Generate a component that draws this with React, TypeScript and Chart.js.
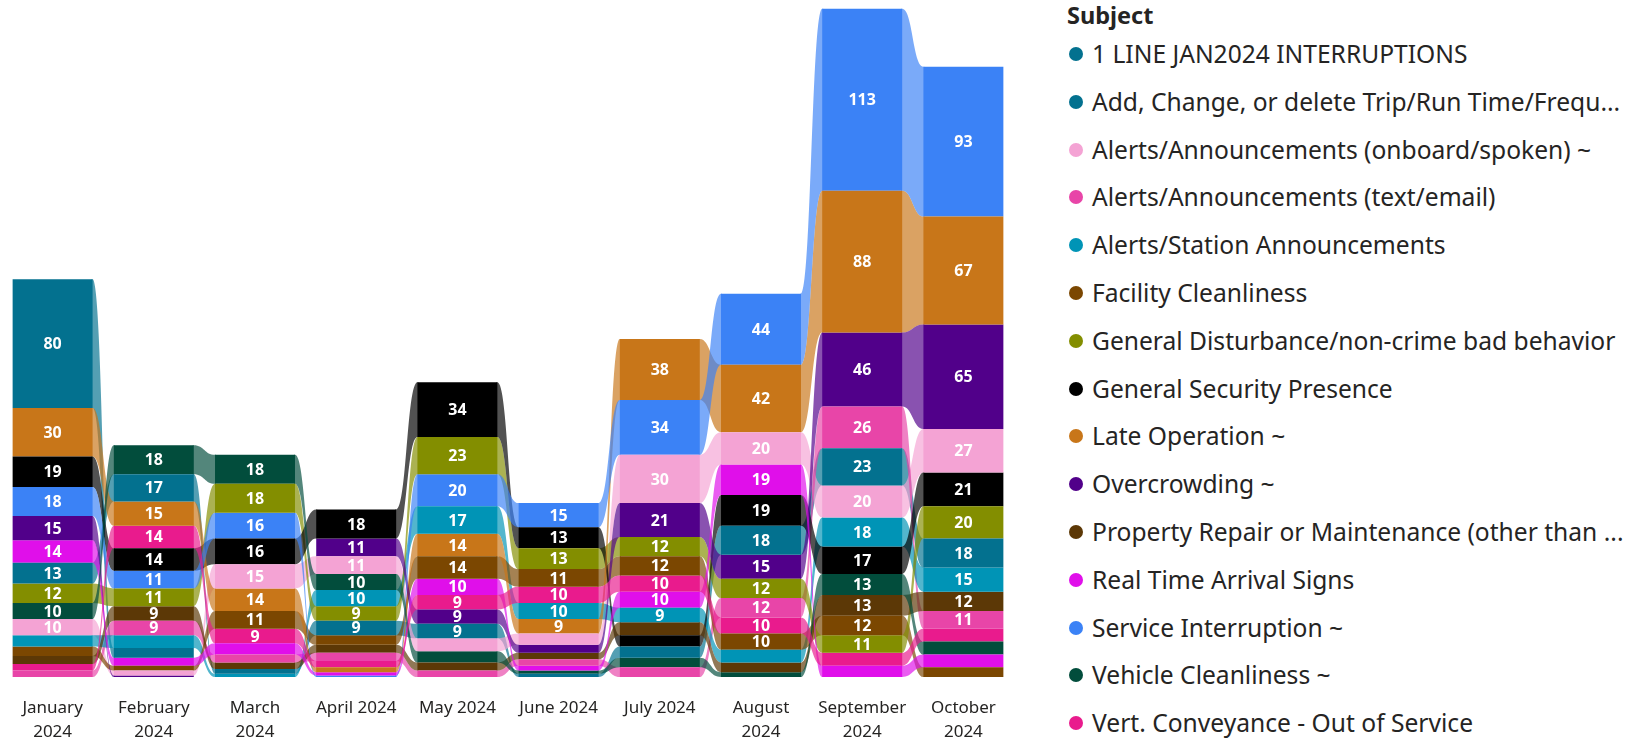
import React, { useEffect, useRef } from "react";
import { Chart, registerables } from "chart.js";

Chart.register(...registerables);

const FONT = '"Segoe UI", "Noto Sans", "Open Sans", sans-serif';

const months = [
  "January 2024", "February 2024", "March 2024", "April 2024", "May 2024",
  "June 2024", "July 2024", "August 2024", "September 2024", "October 2024",
];
const monthTickLabels: (string | string[])[] = [
  ["January", "2024"], ["February", "2024"], ["March", "2024"], "April 2024", "May 2024",
  "June 2024", "July 2024", ["August", "2024"], ["September", "2024"], ["October", "2024"],
];

const subjects = [
  "1 LINE JAN2024 INTERRUPTIONS",
  "Add, Change, or delete Trip/Run Time/Frequ...",
  "Alerts/Announcements (onboard/spoken) ~",
  "Alerts/Announcements (text/email)",
  "Alerts/Station Announcements",
  "Facility Cleanliness",
  "General Disturbance/non-crime bad behavior",
  "General Security Presence",
  "Late Operation ~",
  "Overcrowding ~",
  "Property Repair or Maintenance (other than ...",
  "Real Time Arrival Signs",
  "Service Interruption ~",
  "Vehicle Cleanliness ~",
  "Vert. Conveyance - Out of Service",
];
const subjectColors = [
  "#03718F", "#03718F", "#F4A3D4", "#E845A8", "#0094B6",
  "#7B4701", "#838E00", "#000000", "#C87619", "#51008A",
  "#5C3806", "#E00FEA", "#3B82F6", "#024D3C", "#E91B8D",
];

// monthly counts, Jan..Oct 2024
const oneLineJan2024 = [80, 6, 0, 0, 0, 0, 0, 0, 0, 0];
const addChangeTrip = [13, 17, 3, 9, 9, 2, 7, 18, 23, 18];
const alertsOnboard = [10, 3, 15, 11, 8, 7, 30, 20, 20, 27];
const alertsText = [4, 9, 5, 5, 4, 4, 6, 12, 26, 11];
const alertsStation = [7, 8, 2, 10, 17, 10, 9, 8, 18, 15];
const facilityCleanliness = [6, 3, 11, 6, 14, 11, 12, 10, 12, 6];
const generalDisturbance = [12, 11, 18, 9, 23, 13, 12, 12, 11, 20];
const generalSecurity = [19, 14, 16, 18, 34, 13, 7, 19, 17, 21];
const lateOperation = [30, 15, 14, 3, 14, 9, 38, 42, 88, 67];
const overcrowding = [15, 1, 0, 11, 9, 5, 21, 15, 46, 65];
const propertyRepair = [5, 9, 4, 5, 5, 4, 8, 6, 13, 12];
const realTimeSigns = [14, 5, 7, 2, 10, 3, 10, 19, 7, 8];
const serviceInterruption = [18, 11, 16, 1, 20, 15, 34, 44, 113, 93];
const vehicleCleanliness = [10, 18, 18, 10, 7, 2, 6, 3, 13, 8];
const vertConveyance = [4, 14, 9, 4, 9, 10, 10, 10, 8, 8];

const seriesValues = [
  oneLineJan2024, addChangeTrip, alertsOnboard, alertsText, alertsStation,
  facilityCleanliness, generalDisturbance, generalSecurity, lateOperation, overcrowding,
  propertyRepair, realTimeSigns, serviceInterruption, vehicleCleanliness, vertConveyance,
];

// ribbon-chart stacking: per month, largest at top (ties: later subject on top)
function buildRanges(): ([number, number] | null)[][] {
  const out: ([number, number] | null)[][] = seriesValues.map(() => months.map(() => null));
  months.forEach((_, m) => {
    const idx = seriesValues.map((_, s) => s).filter((s) => seriesValues[s][m] > 0);
    idx.sort((a, b) => seriesValues[a][m] - seriesValues[b][m] || a - b);
    let cum = 0;
    idx.forEach((s) => {
      const v = seriesValues[s][m];
      out[s][m] = [cum, cum + v];
      cum += v;
    });
  });
  return out;
}

function hexA(hex: string, a: number) {
  const n = parseInt(hex.slice(1), 16);
  return `rgba(${(n >> 16) & 255},${(n >> 8) & 255},${n & 255},${a})`;
}

const ribbonPlugin = {
  id: "ribbons",
  beforeDatasetsDraw(chart: any) {
    const ctx = chart.ctx;
    ctx.save();
    seriesValues.forEach((vals, s) => {
      const meta = chart.getDatasetMeta(s);
      for (let i = 0; i < months.length - 1; i++) {
        if (!(vals[i] > 0 && vals[i + 1] > 0)) continue;
        const a = meta.data[i] as any;
        const b = meta.data[i + 1] as any;
        const x0 = a.x + a.width / 2;
        const x1 = b.x - b.width / 2;
        const aT = Math.min(a.y, a.base), aB = Math.max(a.y, a.base);
        const bT = Math.min(b.y, b.base), bB = Math.max(b.y, b.base);
        const xm = (x0 + x1) / 2;
        ctx.beginPath();
        ctx.moveTo(x0 - 1, aT);
        ctx.lineTo(x0, aT);
        ctx.bezierCurveTo(xm, aT, xm, bT, x1, bT);
        ctx.lineTo(x1 + 1, bT);
        ctx.lineTo(x1 + 1, bB);
        ctx.lineTo(x1, bB);
        ctx.bezierCurveTo(xm, bB, xm, aB, x0, aB);
        ctx.lineTo(x0 - 1, aB);
        ctx.closePath();
        ctx.fillStyle = hexA(subjectColors[s], 0.68);
        ctx.fill();
      }
    });
    ctx.restore();
  },
  afterDatasetsDraw(chart: any) {
    const ctx = chart.ctx;
    ctx.save();
    ctx.fillStyle = "#FFFFFF";
    ctx.font = `bold 16px ${FONT}`;
    ctx.textAlign = "center";
    ctx.textBaseline = "middle";
    seriesValues.forEach((vals, s) => {
      const meta = chart.getDatasetMeta(s);
      vals.forEach((v, i) => {
        if (v < 9) return;
        const el = meta.data[i] as any;
        ctx.fillText(String(v), el.x, (el.y + el.base) / 2 + 1);
      });
    });
    ctx.restore();
  },
};

function ChartCanvas() {
  const ref = useRef<HTMLCanvasElement | null>(null);
  useEffect(() => {
    if (!ref.current) return;
    const ranges = buildRanges();
    const chart = new Chart(ref.current, {
      type: "bar",
      data: {
        labels: monthTickLabels as any,
        datasets: subjects.map((name, s) => ({
          label: name,
          data: ranges[s] as any,
          backgroundColor: subjectColors[s],
          borderWidth: 0,
          grouped: false,
          categoryPercentage: 0.79,
          barPercentage: 1,
        })),
      },
      options: {
        animation: false,
        responsive: false,
        maintainAspectRatio: false,
        layout: { padding: { left: 2, right: 26, top: 8, bottom: 0 } },
        plugins: { legend: { display: false }, tooltip: { enabled: false } },
        scales: {
          x: {
            grid: { display: false, drawTicks: false },
            border: { display: false },
            ticks: {
              padding: 19,
              color: "#252423",
              autoSkip: false,
              maxRotation: 0,
              font: { family: FONT, size: 17, lineHeight: 1.41 },
            },
            afterFit: (scale: any) => {
              scale.height = 64;
            },
          },
          y: { display: false, min: 0, max: 415.5 },
        },
      },
      plugins: [ribbonPlugin],
    });
    return () => chart.destroy();
  }, []);
  return (
    <canvas
      ref={ref}
      width={1040}
      height={741}
      style={{ position: "absolute", left: 0, top: 0, width: 1040, height: 741 }}
    />
  );
}

function Legend() {
  return (
    <div style={{ position: "absolute", left: 1067, top: 0, fontFamily: FONT, color: "#252423" }}>
      <div
        style={{
          position: "absolute", left: 0, top: 0, height: 30, lineHeight: "30px",
          fontSize: 23.5, fontWeight: 700, whiteSpace: "nowrap",
        }}
      >
        Subject
      </div>
      {subjects.map((name, k) => (
        <div
          key={name}
          style={{
            position: "absolute", left: 0, top: 54 + k * 47.8 - 16, height: 32,
            whiteSpace: "nowrap",
          }}
        >
          <span
            style={{
              position: "absolute", left: 2, top: 9, width: 14, height: 14,
              borderRadius: "50%", background: subjectColors[k],
            }}
          />
          <span style={{ position: "absolute", left: 25, top: 0, lineHeight: "32px", fontSize: 24.6 }}>
            {name}
          </span>
        </div>
      ))}
    </div>
  );
}

export default function App() {
  return (
    <div style={{ position: "absolute", left: 0, top: 0, width: 1633, height: 741, background: "#FFFFFF" }}>
      <ChartCanvas />
      <Legend />
    </div>
  );
}
